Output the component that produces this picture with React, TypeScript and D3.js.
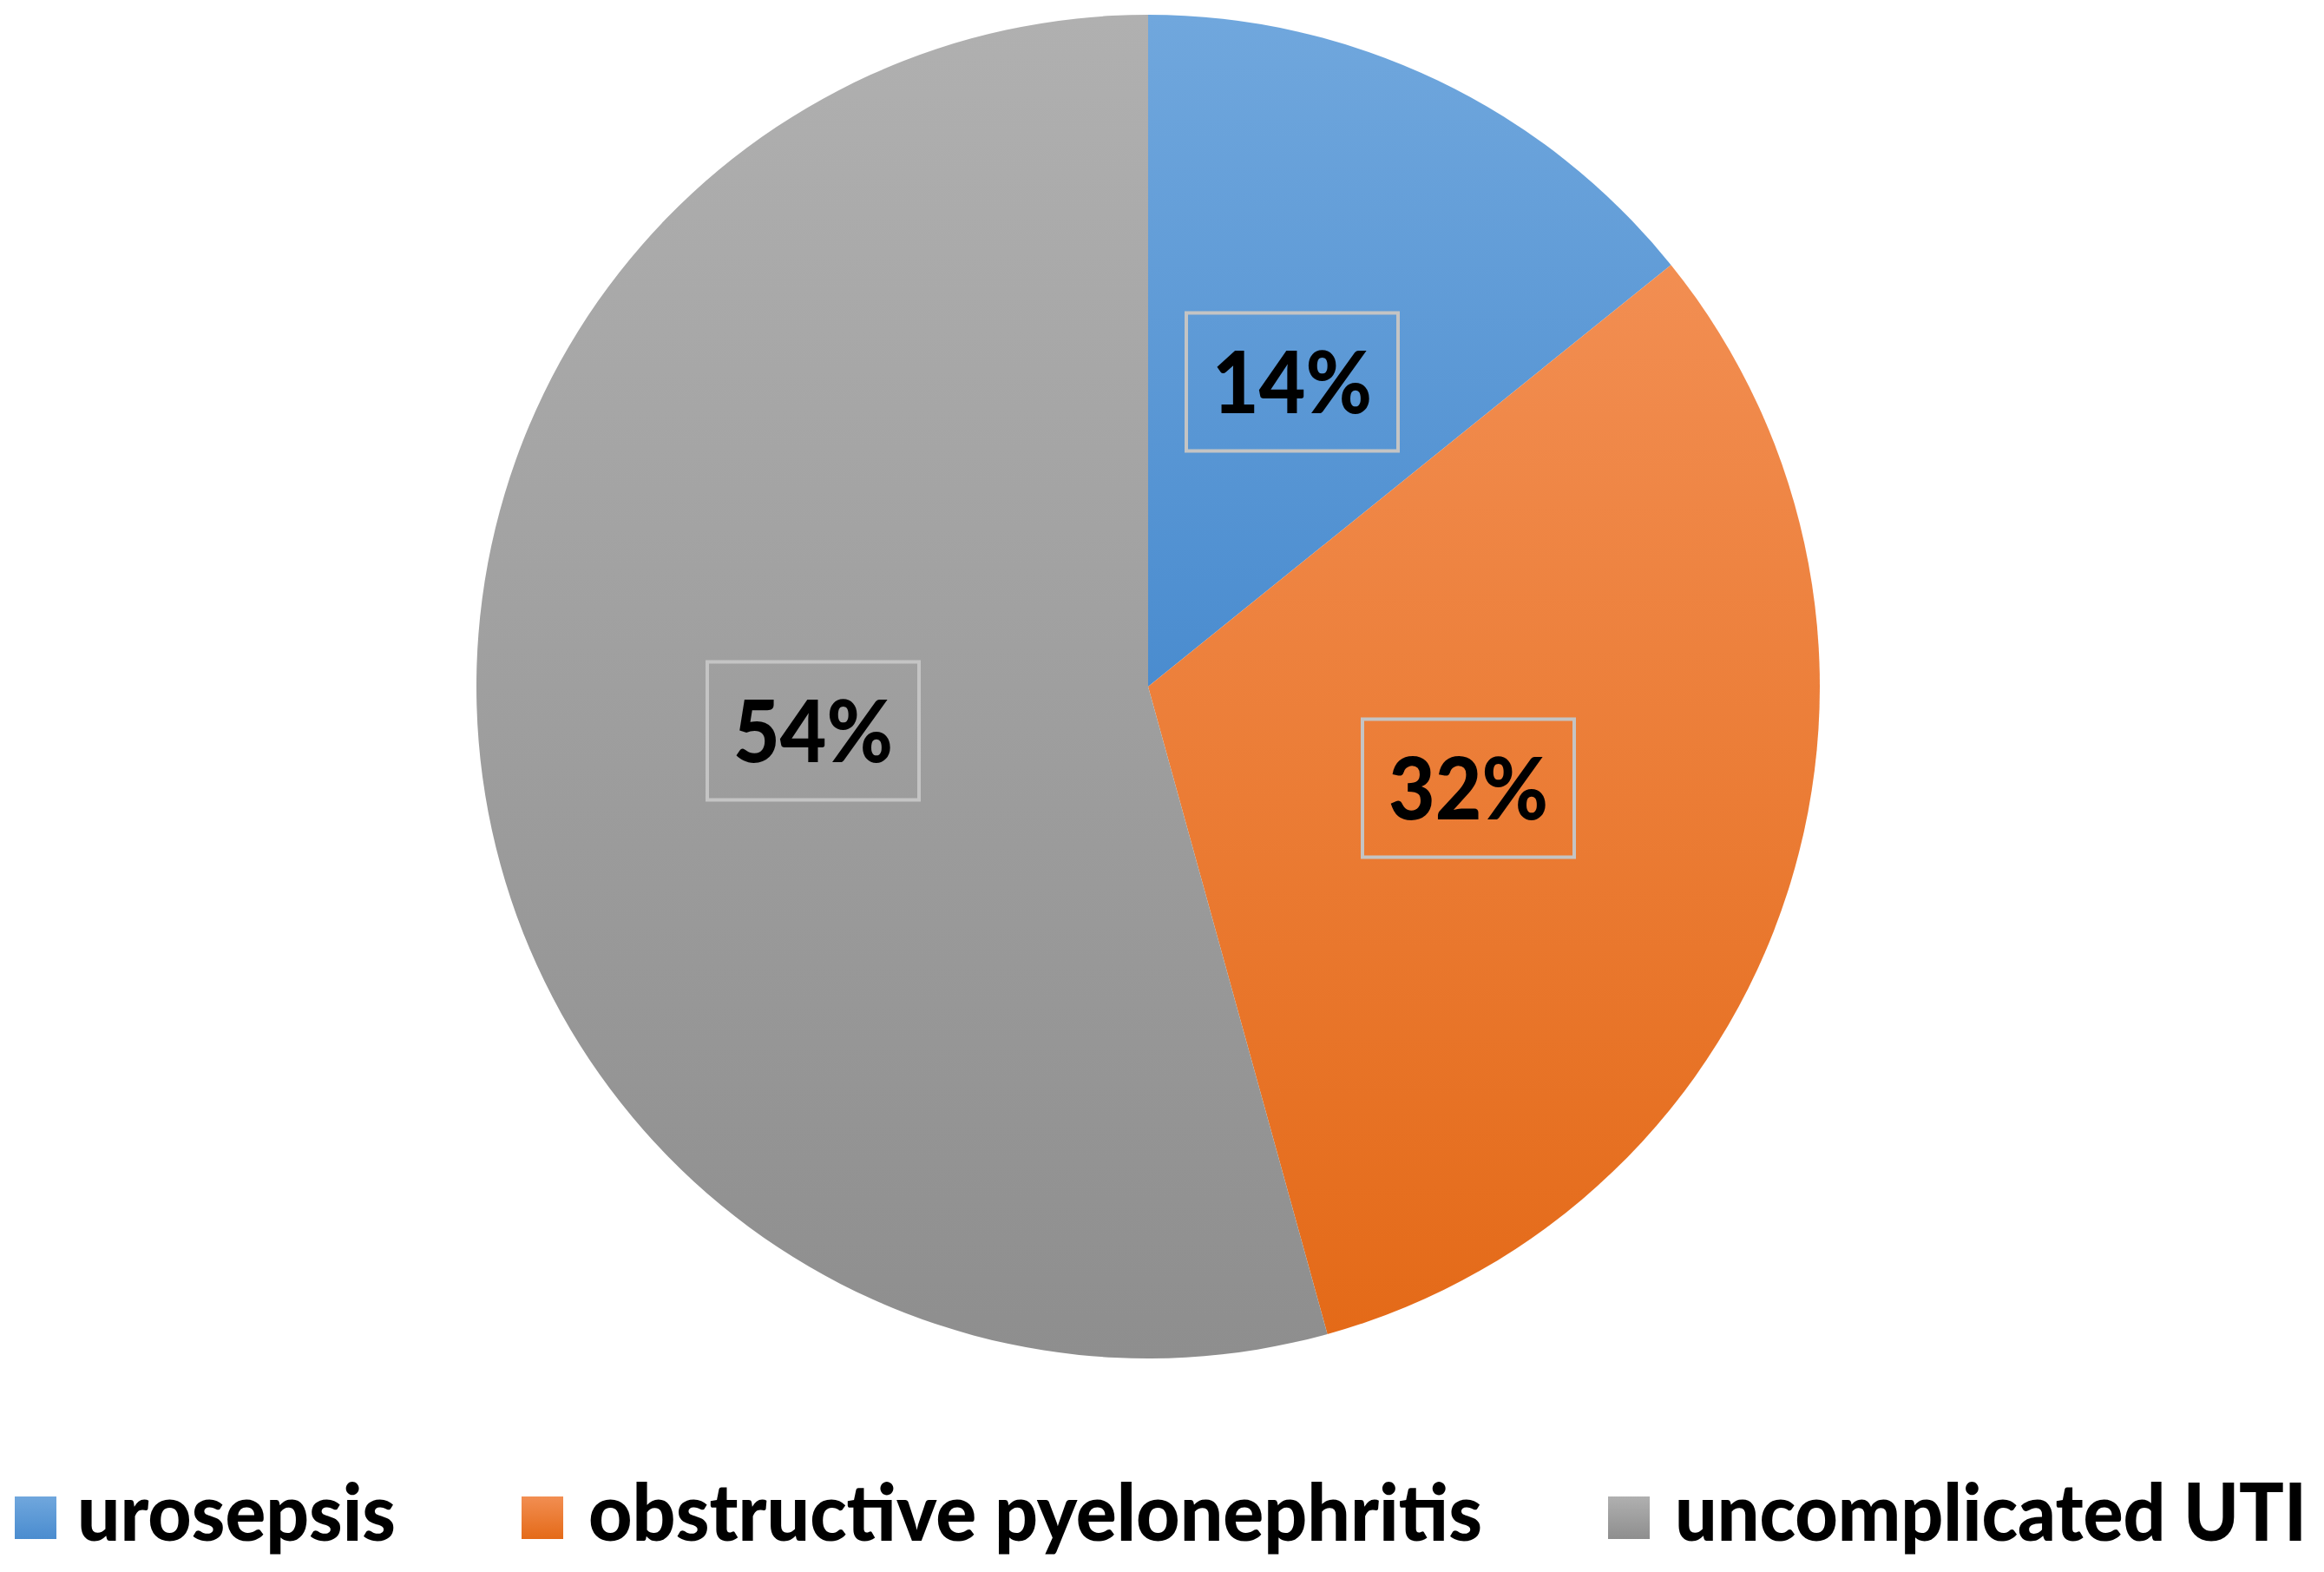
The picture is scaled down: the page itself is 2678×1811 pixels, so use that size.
import React from "react";
import * as d3 from "d3";

const categories = ["urosepsis", "obstructive pyelonephritis", "uncomplicated UTI"];
const values = [14.2, 31.5, 54.3];
const labels = ["14%", "32%", "54%"];
const gradTop = ["#70a7dd", "#f28e52", "#b0b0b0"];
const gradBottom = ["#4a8ccf", "#e46a18", "#8e8e8e"];

const W = 2678;
const H = 1811;
const cx = 1323;
const cy = 791;
const R = 774;

// label box centers (relative placement as in the reference)
const labelBoxes = [
  { x: 1489, y: 440 },
  { x: 1692, y: 908 },
  { x: 937, y: 842 },
];

const legendItems = [
  { sq: 17, tx: 89, tw: 367 },
  { sq: 601, tx: 678, tw: 1030 },
  { sq: 1853, tx: 1930, tw: 728 },
];

const SX = 0.85;

export default function App() {
  const pie = d3.pie<number>().sort(null).value((d) => d)(values);
  const arc = d3.arc<d3.PieArcDatum<number>>().innerRadius(0).outerRadius(R);
  const boxW = 244;
  const boxH = 159;
  return (
    <svg width={W} height={H} style={{ position: "absolute", left: 0, top: 0, background: "#fff" }}>
      <defs>
        {categories.map((c, i) => (
          <linearGradient key={c} id={`g${i}`} x1="0" y1="0" x2="0" y2="1">
            <stop offset="0" stopColor={gradTop[i]} />
            <stop offset="1" stopColor={gradBottom[i]} />
          </linearGradient>
        ))}
      </defs>
      <g transform={`translate(${cx},${cy})`}>
        {pie.map((p, i) => (
          <path key={i} d={arc(p) || ""} fill={`url(#g${i})`} />
        ))}
      </g>
      {pie.map((p, i) => {
        const b = labelBoxes[i];
        return (
          <g key={"l" + i}>
            <rect
              x={b.x - boxW / 2}
              y={b.y - boxH / 2}
              width={boxW}
              height={boxH}
              fill="none"
              stroke="#c4c4c4"
              strokeWidth={4}
            />
            <text
              x={b.x}
              y={b.y + 36}
              textAnchor="middle"
              fontFamily="Lato, 'Open Sans', sans-serif"
              fontWeight={900}
              fontSize={100}
              fill="#000"
              textLength={184}
              lengthAdjust="spacingAndGlyphs"
            >
              {labels[i]}
            </text>
          </g>
        );
      })}
      {legendItems.map((l, i) => (
        <g key={"lg" + i}>
          <rect x={l.sq} y={1724} width={48} height={49} fill={`url(#g${i})`} />
          <g transform={`translate(${l.tx},1775) scale(${SX},1)`}>
            <text
              x={0}
              y={0}
              fontFamily="Lato, 'Open Sans', sans-serif"
              fontWeight={900}
              fontSize={92}
              fill="#000"
              textLength={l.tw / SX}
              lengthAdjust="spacingAndGlyphs"
            >
              {categories[i]}
            </text>
          </g>
        </g>
      ))}
    </svg>
  );
}
